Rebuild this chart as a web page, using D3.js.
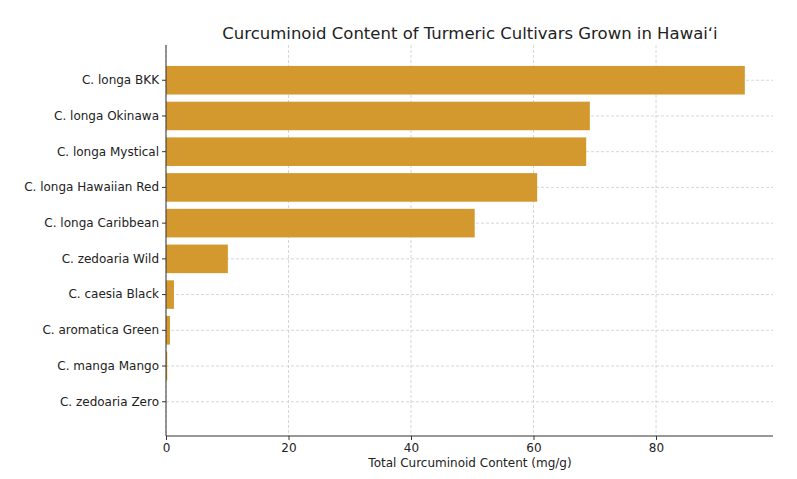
<!DOCTYPE html><html><head><script src="https://cdn.jsdelivr.net/npm/d3@7"></script>
<style>body{margin:0;background:#fff}text{font-family:"DejaVu Sans",sans-serif;fill:#222}</style></head><body>
<svg id="c" width="797" height="479"></svg>
<script>
const categories=["C. longa BKK","C. longa Okinawa","C. longa Mystical","C. longa Hawaiian Red","C. longa Caribbean","C. zedoaria Wild","C. caesia Black","C. aromatica Green","C. manga Mango","C. zedoaria Zero"];
const values=[94.5,69.2,68.6,60.6,50.4,10.1,1.3,0.65,0.2,0];
const xTicks=[0,20,40,60,80];
const svg=d3.select("#c");
const L=166,R=773,T=45,B=436;
const x=d3.scaleLinear().domain([0,99.1]).range([L,R]);
const y=d3.scaleBand().domain(categories).range([58.8,423.2]).padding(0.2);
const g=svg.append("g");
// grid
g.selectAll(".vg").data(xTicks).join("line").attr("x1",d=>x(d)).attr("x2",d=>x(d)).attr("y1",T).attr("y2",B)
 .attr("stroke","#ccc").attr("stroke-dasharray","3,2").attr("stroke-width",0.8);
g.selectAll(".hg").data(categories).join("line").attr("x1",L).attr("x2",R).attr("y1",d=>y(d)+y.bandwidth()/2).attr("y2",d=>y(d)+y.bandwidth()/2)
 .attr("stroke","#ccc").attr("stroke-dasharray","3,2").attr("stroke-width",0.8);
g.selectAll("rect").data(values).join("rect").attr("x",x(0)).attr("y",(d,i)=>y(categories[i])).attr("width",d=>x(d)-x(0)).attr("height",y.bandwidth()).attr("fill","#D4992E");
// axes
const xa=svg.append("g").attr("transform",`translate(0,${B})`).call(d3.axisBottom(x).tickValues(xTicks).tickSize(4).tickSizeOuter(0));
xa.select(".domain").attr("d",`M${L},0H${R}`);
const ya=svg.append("g").attr("transform",`translate(${L},0)`).call(d3.axisLeft(y).tickSize(4).tickSizeOuter(0));
ya.select(".domain").attr("d",`M0,${T}V${B}`);
svg.selectAll(".tick text").style("font-size","12px").style("font-family","DejaVu Sans").attr("fill","#222");
svg.selectAll(".domain,.tick line").attr("stroke","#333");
svg.append("text").attr("x",470).attr("y",39).attr("text-anchor","middle").style("font-size","16.5px").text("Curcuminoid Content of Turmeric Cultivars Grown in Hawaiʻi");
svg.append("text").attr("x",470).attr("y",467).attr("text-anchor","middle").style("font-size","12px").text("Total Curcuminoid Content (mg/g)");
</script></body></html>
